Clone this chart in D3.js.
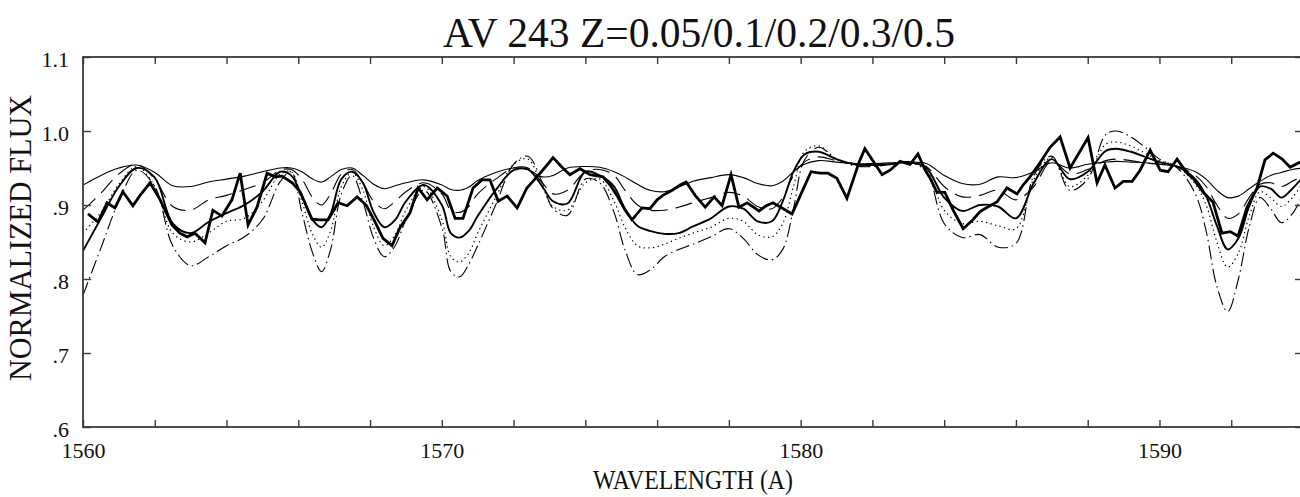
<!DOCTYPE html>
<html>
<head>
<meta charset="utf-8">
<script src="https://cdn.jsdelivr.net/npm/d3@7"></script>
<style>
  html, body { margin: 0; padding: 0; background: #fff; }
  svg { display: block; }
  text { font-family: "Liberation Serif", "DejaVu Serif", serif; fill: #111; }
</style>
</head>
<body>
<svg id="chart" width="1300" height="497"></svg>
<script>
// ---- data -----------------------------------------------------------------
const titleText = "AV 243 Z=0.05/0.1/0.2/0.3/0.5";
const xTitle = "WAVELENGTH (A)";
const yTitle = "NORMALIZED FLUX";

const xTickValues = [1560,1562,1564,1566,1568,1570,1572,1574,1576,1578,1580,1582,1584,1586,1588,1590,1592,1594];
const xLabelValues = [1560, 1570, 1580, 1590];
const yTickValues = [0.6, 0.7, 0.8, 0.9, 1.0, 1.1];
const yTickLabels = [".6", ".7", ".8", ".9", "1.0", "1.1"];

// observed spectrum
const obsWave = [1560.14,1560.42,1560.67,1560.89,1561.11,1561.39,1561.59,1561.87,1562.15,1562.48,1562.70,1562.90,1563.12,1563.40,1563.62,1563.87,1564.15,1564.38,1564.60,1564.85,1565.13,1565.35,1565.55,1565.83,1566.05,1566.38,1566.61,1566.83,1567.11,1567.36,1567.64,1567.89,1568.11,1568.36,1568.61,1568.84,1569.11,1569.34,1569.59,1569.87,1570.15,1570.37,1570.59,1570.87,1571.12,1571.34,1571.57,1571.82,1572.10,1572.37,1572.65,1572.88,1573.10,1573.35,1573.57,1573.85,1574.13,1574.49,1574.69,1574.88,1575.11,1575.30,1575.58,1575.80,1576.00,1576.16,1576.42,1576.64,1576.81,1577.06,1577.34,1577.59,1577.81,1578.06,1578.28,1578.51,1578.84,1579.04,1579.23,1579.48,1579.76,1580.04,1580.29,1580.54,1580.76,1581.01,1581.29,1581.63,1581.79,1582.05,1582.27,1582.49,1582.77,1583.05,1583.27,1583.47,1583.61,1583.80,1584.02,1584.25,1584.53,1584.80,1585.00,1585.20,1585.47,1585.75,1586.03,1586.20,1586.39,1586.67,1586.95,1587.23,1587.51,1588.01,1588.26,1588.48,1588.76,1588.99,1589.24,1589.46,1589.74,1590.02,1590.24,1590.49,1590.77,1590.94,1591.22,1591.49,1591.74,1591.97,1592.19,1592.44,1592.72,1592.94,1593.17,1593.42,1593.64,1593.92];
const obsFlux = [0.888,0.877,0.903,0.896,0.918,0.899,0.913,0.930,0.907,0.873,0.862,0.857,0.862,0.849,0.893,0.885,0.907,0.943,0.873,0.897,0.943,0.938,0.939,0.930,0.918,0.881,0.880,0.880,0.903,0.899,0.911,0.900,0.880,0.855,0.845,0.870,0.889,0.923,0.907,0.923,0.912,0.882,0.882,0.923,0.934,0.934,0.905,0.912,0.896,0.923,0.938,0.951,0.964,0.951,0.941,0.949,0.941,0.938,0.927,0.913,0.893,0.880,0.896,0.895,0.907,0.913,0.920,0.927,0.931,0.913,0.897,0.911,0.899,0.941,0.897,0.903,0.892,0.899,0.903,0.896,0.888,0.918,0.945,0.943,0.943,0.936,0.909,0.958,0.976,0.957,0.941,0.947,0.959,0.955,0.969,0.947,0.936,0.917,0.917,0.893,0.868,0.880,0.891,0.897,0.904,0.923,0.915,0.927,0.938,0.957,0.978,0.992,0.950,0.991,0.930,0.954,0.923,0.932,0.932,0.947,0.974,0.947,0.945,0.962,0.943,0.936,0.917,0.904,0.862,0.864,0.858,0.897,0.923,0.961,0.970,0.962,0.951,0.958];

// model spectra, common wavelength grid
const modelWave = [1560,1560.5,1561,1561.5,1562,1562.5,1563,1563.5,1564,1564.5,1565,1565.5,
  1565.8,1566.1,1566.4,1566.65,1566.9,1567.2,1567.5,1567.8,1568.1,1568.4,1568.7,1569.0,1569.5,1570.0,
  1570.25,1570.5,1570.75,1571.0,1571.5,1572.0,1572.4,1572.8,1573.1,1573.5,1574.0,1574.4,
  1574.8,1575.1,1575.45,1575.8,1576.2,1576.6,1577.0,1577.5,1578.0,1578.4,1578.8,1579.2,1579.5,1579.8,1580.1,1580.5,
  1581.0,1581.5,1582.0,1582.5,1583.0,1583.5,
  1584.0,1584.5,1585.0,1585.5,1586.0,1586.5,1587.0,1587.5,1588.0,1588.5,1588.8,1589.2,1589.6,1590.0,
  1590.5,1591.0,1591.3,1591.6,1591.9,1592.2,1592.5,1592.8,1593.1,1593.4,1593.7,1594.0];

const fluxZ005 = [0.927,0.940,0.950,0.954,0.944,0.926,0.925,0.931,0.935,0.939,0.945,0.950,
  0.950,0.945,0.935,0.931,0.938,0.948,0.950,0.940,0.928,0.922,0.926,0.930,0.934,0.927,
  0.921,0.920,0.924,0.933,0.944,0.950,0.948,0.938,0.940,0.950,0.952,0.951,
  0.945,0.938,0.928,0.920,0.918,0.924,0.932,0.937,0.941,0.937,0.929,0.926,0.932,0.945,0.955,0.960,
  0.958,0.956,0.956,0.957,0.958,0.956,
  0.940,0.929,0.928,0.938,0.937,0.945,0.957,0.950,0.955,0.958,0.959,0.958,0.957,0.955,
  0.952,0.945,0.935,0.920,0.910,0.912,0.922,0.932,0.940,0.944,0.948,0.950];

const fluxZ01 = [0.893,0.916,0.942,0.955,0.935,0.898,0.893,0.907,0.913,0.921,0.930,0.947,
  0.948,0.935,0.910,0.900,0.915,0.942,0.948,0.930,0.905,0.895,0.905,0.918,0.930,0.915,
  0.893,0.890,0.898,0.915,0.935,0.950,0.950,0.930,0.915,0.920,0.945,0.948,
  0.940,0.920,0.900,0.893,0.893,0.897,0.903,0.910,0.917,0.912,0.898,0.895,0.910,0.940,0.958,0.965,
  0.960,0.956,0.955,0.956,0.958,0.952,
  0.925,0.911,0.913,0.920,0.907,0.925,0.960,0.942,0.948,0.960,0.962,0.960,0.957,0.955,
  0.952,0.940,0.925,0.900,0.882,0.888,0.910,0.928,0.930,0.925,0.932,0.940];

const fluxZ02 = [0.838,0.882,0.925,0.950,0.937,0.875,0.862,0.877,0.889,0.900,0.918,0.945,
  0.940,0.912,0.880,0.870,0.888,0.935,0.945,0.930,0.890,0.870,0.880,0.905,0.927,0.900,
  0.862,0.856,0.865,0.885,0.920,0.947,0.948,0.925,0.905,0.902,0.945,0.940,
  0.925,0.895,0.872,0.865,0.861,0.862,0.871,0.882,0.898,0.895,0.878,0.878,0.905,0.945,0.968,0.972,
  0.962,0.955,0.954,0.955,0.958,0.950,
  0.910,0.892,0.900,0.898,0.882,0.930,0.962,0.935,0.945,0.973,0.976,0.972,0.965,0.958,
  0.952,0.935,0.912,0.872,0.840,0.855,0.898,0.925,0.922,0.910,0.922,0.938];

const fluxZ03 = [0.862,0.890,0.928,0.952,0.925,0.862,0.850,0.862,0.878,0.882,0.905,0.942,
  0.945,0.905,0.860,0.843,0.865,0.925,0.944,0.920,0.870,0.845,0.860,0.893,0.925,0.880,
  0.830,0.823,0.835,0.862,0.910,0.955,0.962,0.925,0.898,0.893,0.930,0.935,
  0.905,0.870,0.845,0.842,0.847,0.855,0.862,0.870,0.882,0.878,0.860,0.857,0.875,0.925,0.972,0.980,
  0.962,0.954,0.953,0.955,0.958,0.948,
  0.893,0.875,0.878,0.872,0.868,0.935,0.964,0.925,0.940,0.982,0.985,0.980,0.970,0.960,
  0.952,0.928,0.900,0.850,0.816,0.835,0.885,0.918,0.910,0.898,0.910,0.930];

const fluxZ05 = [0.778,0.842,0.905,0.947,0.925,0.845,0.818,0.830,0.845,0.857,0.880,0.932,
  0.945,0.890,0.835,0.810,0.840,0.915,0.940,0.905,0.855,0.830,0.845,0.880,0.920,0.870,
  0.810,0.803,0.820,0.845,0.900,0.955,0.966,0.930,0.895,0.886,0.935,0.930,
  0.890,0.840,0.806,0.812,0.830,0.840,0.847,0.857,0.868,0.855,0.833,0.826,0.840,0.895,0.960,0.978,
  0.962,0.953,0.952,0.955,0.958,0.945,
  0.875,0.856,0.860,0.843,0.848,0.940,0.966,0.920,0.935,0.995,1.000,0.992,0.978,0.962,
  0.950,0.915,0.865,0.790,0.756,0.800,0.870,0.910,0.895,0.876,0.888,0.915];

// ---- layout ---------------------------------------------------------------
const W = 1300, H = 497;
const plot = { left: 83, right: 1303, top: 57, bottom: 427 };

const svg = d3.select("#chart");
svg.append("rect").attr("width", W).attr("height", H).attr("fill", "#fff");

const x = d3.scaleLinear().domain([1560, 1594]).range([plot.left, plot.right]);
const y = d3.scaleLinear().domain([0.6, 1.1]).range([plot.bottom, plot.top]);

svg.append("defs").append("clipPath").attr("id", "plotClip")
  .append("rect")
  .attr("x", plot.left).attr("y", plot.top)
  .attr("width", plot.right - plot.left).attr("height", plot.bottom - plot.top);

// ---- model curves ---------------------------------------------------------
const models = [
  { flux: fluxZ005, width: 1.1, dash: null },
  { flux: fluxZ01,  width: 1.1, dash: "17,8" },
  { flux: fluxZ02,  width: 1.9, dash: null },
  { flux: fluxZ03,  width: 1.2, dash: "1.3,3.4" },
  { flux: fluxZ05,  width: 1.1, dash: "14,4,1.5,4" }
];

const smooth = d3.line()
  .x(d => x(d[0]))
  .y(d => y(d[1]))
  .curve(d3.curveCatmullRom.alpha(0.5));

const gLines = svg.append("g").attr("clip-path", "url(#plotClip)");

models.forEach(m => {
  gLines.append("path")
    .datum(modelWave.map((w, i) => [w, m.flux[i]]))
    .attr("d", smooth)
    .attr("fill", "none")
    .attr("stroke", "#000")
    .attr("stroke-width", m.width)
    .attr("stroke-dasharray", m.dash)
    .attr("stroke-linejoin", "round");
});

// observed spectrum, drawn as a heavy polyline on top
const poly = d3.line().x(d => x(d[0])).y(d => y(d[1]));
gLines.append("path")
  .datum(obsWave.map((w, i) => [w, obsFlux[i]]))
  .attr("d", poly)
  .attr("fill", "none")
  .attr("stroke", "#000")
  .attr("stroke-width", 2.8)
  .attr("stroke-linejoin", "miter");

// ---- frame and axes -------------------------------------------------------
const axisColor = "#3a3a3a";

const bottomAxis = d3.axisBottom(x)
  .tickValues(xTickValues)
  .tickSize(-7)
  .tickPadding(15)
  .tickFormat(d => xLabelValues.includes(d) ? d3.format("d")(d) : "");
const topAxis = d3.axisTop(x).tickValues(xTickValues).tickSize(-7).tickFormat("");
const leftAxis = d3.axisLeft(y)
  .tickValues(yTickValues)
  .tickSize(-8)
  .tickPadding(14)
  .tickFormat((d, i) => yTickLabels[i]);
const rightAxis = d3.axisRight(y).tickValues(yTickValues).tickSize(-8).tickFormat("");

function styleAxis(g) {
  g.select(".domain").remove();
  g.selectAll(".tick line").attr("stroke", axisColor).attr("stroke-width", 1.4);
  g.selectAll(".tick text")
    .attr("fill", "#111")
    .attr("font-family", "Liberation Serif, DejaVu Serif, serif")
    .attr("font-size", 22);
}

svg.append("g").attr("transform", `translate(0,${plot.bottom})`).call(bottomAxis).call(styleAxis);
svg.append("g").attr("transform", `translate(0,${plot.top})`).call(topAxis).call(styleAxis);
svg.append("g").attr("transform", `translate(${plot.left},0)`).call(leftAxis).call(styleAxis)
  .selectAll(".tick text").attr("dy", "0.42em");
svg.append("g").attr("transform", `translate(${plot.right},0)`).call(rightAxis).call(styleAxis);

svg.append("rect")
  .attr("x", plot.left).attr("y", plot.top)
  .attr("width", plot.right - plot.left).attr("height", plot.bottom - plot.top)
  .attr("fill", "none").attr("stroke", axisColor).attr("stroke-width", 1.8);

// ---- titles ---------------------------------------------------------------
svg.append("text")
  .attr("x", 699).attr("y", 47)
  .attr("text-anchor", "middle")
  .attr("font-size", 43)
  .attr("textLength", 512).attr("lengthAdjust", "spacingAndGlyphs")
  .text(titleText);

svg.append("text")
  .attr("x", 693).attr("y", 489)
  .attr("text-anchor", "middle")
  .attr("font-size", 28)
  .attr("textLength", 200).attr("lengthAdjust", "spacingAndGlyphs")
  .text(xTitle);

svg.append("text")
  .attr("transform", "translate(31,238) rotate(-90)")
  .attr("text-anchor", "middle")
  .attr("font-size", 31)
  .attr("textLength", 286).attr("lengthAdjust", "spacingAndGlyphs")
  .text(yTitle);
</script>
</body>
</html>
